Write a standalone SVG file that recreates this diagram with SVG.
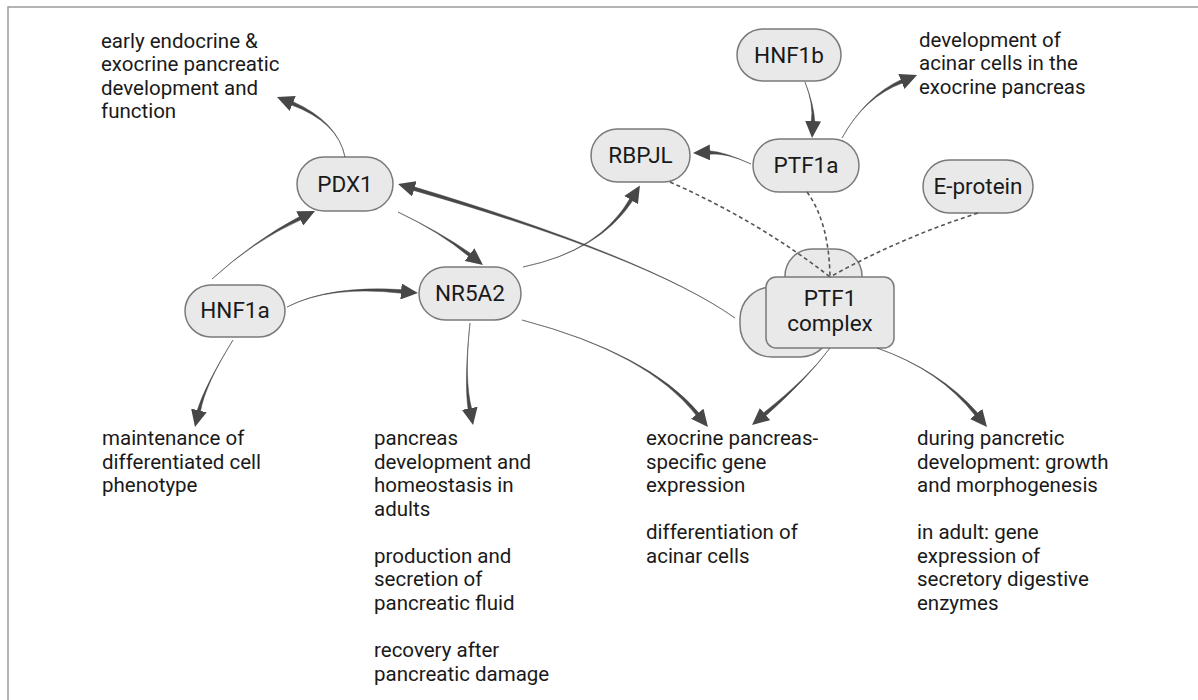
<svg xmlns="http://www.w3.org/2000/svg" width="1198" height="700" viewBox="0 0 1198 700">
  <style>
    .frame { fill: #ffffff; stroke: #9a9a9a; stroke-width: 1.5; }
    .pill { fill: #e9e9e9; stroke: #7a7a7a; stroke-width: 1.5; }
    .lbl { font-family: Roboto, "Liberation Sans", sans-serif; font-size: 22.5px; fill: #1a1a1a; text-anchor: middle; }
    .note { font-family: Roboto, "Liberation Sans", sans-serif; font-size: 20.5px; fill: #1a1a1a; }
    .taper { fill: #474747; stroke: #474747; stroke-width: 0.5; stroke-linejoin: round; }
    .head { fill: none; stroke: none; marker-end: url(#ah); }
    .dash { fill: none; stroke: #555555; stroke-width: 1.6; stroke-dasharray: 4 3; }
  </style>
  <defs>
    <marker id="ah" markerUnits="userSpaceOnUse" markerWidth="17" markerHeight="16" viewBox="0 0 17 16" refX="1" refY="8" orient="auto">
      <path d="M0,0 L17,8 L0,16 Z" fill="#474747"/>
    </marker>
  </defs>

  <rect class="frame" x="8" y="7" width="1250" height="760"/>

  <!-- nodes -->
  <g id="node-pdx1">
    <rect class="pill" x="297" y="157" width="96" height="54" rx="27"/>
    <text class="lbl" x="345" y="192">PDX1</text>
  </g>
  <g id="node-hnf1a">
    <rect class="pill" x="185" y="285" width="100" height="52" rx="26"/>
    <text class="lbl" x="235" y="318">HNF1a</text>
  </g>
  <g id="node-nr5a2">
    <rect class="pill" x="419" y="267" width="102" height="53" rx="26.5"/>
    <text class="lbl" x="470" y="301">NR5A2</text>
  </g>
  <g id="node-hnf1b">
    <rect class="pill" x="737" y="29" width="104" height="52" rx="26"/>
    <text class="lbl" x="789" y="63">HNF1b</text>
  </g>
  <g id="node-rbpjl">
    <rect class="pill" x="591" y="129" width="99" height="53" rx="26.5"/>
    <text class="lbl" x="640.5" y="163">RBPJL</text>
  </g>
  <g id="node-ptf1a">
    <rect class="pill" x="753" y="139" width="106" height="53" rx="26.5"/>
    <text class="lbl" x="806" y="173">PTF1a</text>
  </g>
  <g id="node-eprotein">
    <rect class="pill" x="923" y="160" width="110" height="53" rx="26.5"/>
    <text class="lbl" x="978" y="194">E-protein</text>
  </g>
  <g id="node-ptf1-complex">
    <rect class="pill" x="785" y="249" width="77" height="62" rx="27"/>
    <rect class="pill" x="740" y="287" width="92" height="70" rx="32"/>
    <rect class="pill" x="766" y="277" width="128" height="71" rx="10"/>
    <text class="lbl" x="830" y="306">PTF1</text>
    <text class="lbl" x="830" y="331">complex</text>
  </g>

  <!-- outcome texts -->
  <g id="text-pdx1-role">
    <text class="note" x="101" y="48">early endocrine &amp;</text>
    <text class="note" x="101" y="71.4">exocrine pancreatic</text>
    <text class="note" x="101" y="94.8">development and</text>
    <text class="note" x="101" y="118.2">function</text>
  </g>
  <g id="text-ptf1a-role">
    <text class="note" x="919" y="47">development of</text>
    <text class="note" x="919" y="70.4">acinar cells in the</text>
    <text class="note" x="919" y="93.8">exocrine pancreas</text>
  </g>
  <g id="text-hnf1a-role">
    <text class="note" x="102" y="445">maintenance of</text>
    <text class="note" x="102" y="468.5">differentiated cell</text>
    <text class="note" x="102" y="492">phenotype</text>
  </g>
  <g id="text-nr5a2-role">
    <text class="note" x="374" y="445">pancreas</text>
    <text class="note" x="374" y="468.5">development and</text>
    <text class="note" x="374" y="492">homeostasis in</text>
    <text class="note" x="374" y="515.5">adults</text>
    <text class="note" x="374" y="562.5">production and</text>
    <text class="note" x="374" y="586">secretion of</text>
    <text class="note" x="374" y="609.5">pancreatic fluid</text>
    <text class="note" x="374" y="657">recovery after</text>
    <text class="note" x="374" y="680.5">pancreatic damage</text>
  </g>
  <g id="text-exocrine-role">
    <text class="note" x="646" y="445">exocrine pancreas-</text>
    <text class="note" x="646" y="468.5">specific gene</text>
    <text class="note" x="646" y="492">expression</text>
    <text class="note" x="646" y="539">differentiation of</text>
    <text class="note" x="646" y="562.5">acinar cells</text>
  </g>
  <g id="text-ptf1-role">
    <text class="note" x="917" y="445">during pancretic</text>
    <text class="note" x="917" y="468.5">development: growth</text>
    <text class="note" x="917" y="492">and morphogenesis</text>
    <text class="note" x="917" y="539">in adult: gene</text>
    <text class="note" x="917" y="562.5">expression of</text>
    <text class="note" x="917" y="586">secretory digestive</text>
    <text class="note" x="917" y="609.5">enzymes</text>
  </g>

  <!-- connectors: tapered shafts with arrowheads, dashed complex membership -->
  <g id="connectors">
    <path class="dash" d="M670,182 Q760,222 830,277"/>
    <path class="dash" d="M807,192 Q829,222 830,277"/>
    <path class="dash" d="M978,213 Q900,238 830,277"/>

    <path class="taper" d="M345,157 Q338,122 292.5,101.4 L291.1,104.8 Q338,122 345,157Z"/>
    <path class="head" d="M338,122 L291.8,103.1"/>

    <path class="taper" d="M212,279 Q255,240 301.4,219.6 L299.8,216.4 Q255,240 212,279Z"/>
    <path class="head" d="M255,240 L300.6,218"/>

    <path class="taper" d="M398,212 Q440,232 469.2,256.7 L471.4,253.9 Q440,232 398,212Z"/>
    <path class="head" d="M440,232 L470.3,255.3"/>

    <path class="taper" d="M287,307 Q330,285 401.8,293.3 L402.2,289.7 Q330,285 287,307Z"/>
    <path class="head" d="M330,285 L402,291.5"/>

    <path class="taper" d="M233,340 Q205,385 197,411 L200.4,411.8 Q205,385 233,340Z"/>
    <path class="head" d="M205,385 L198.7,411.4"/>

    <path class="taper" d="M470,323 Q464,380 468.1,409.7 L471.7,408.9 Q464,380 470,323Z"/>
    <path class="head" d="M464,380 L469.9,409.3"/>

    <path class="taper" d="M523,267 Q600,251 633.1,200.1 L630.1,198.3 Q600,251 523,267Z"/>
    <path class="head" d="M600,251 L631.6,199.2"/>

    <path class="taper" d="M735,318 Q650,258 413.9,186.8 L412.9,190.2 Q650,258 735,318Z"/>
    <path class="head" d="M650,258 L413.4,188.5"/>

    <path class="taper" d="M522,320 Q648.5,353.3 696.5,415.6 L699.3,413.4 Q648.5,353.3 522,320Z"/>
    <path class="head" d="M648.5,353.3 L697.9,414.5"/>

    <path class="taper" d="M830,348 Q808,378 763.1,413.3 L765.5,416.1 Q808,378 830,348Z"/>
    <path class="head" d="M808,378 L764.3,414.7"/>

    <path class="taper" d="M877,348 Q940,370 975.4,415.8 L978.2,413.6 Q940,370 877,348Z"/>
    <path class="head" d="M940,370 L976.8,414.7"/>

    <path class="taper" d="M805,82 Q814,105 811.2,121.9 L814.8,122.1 Q814,105 805,82Z"/>
    <path class="head" d="M814,105 L813,122"/>

    <path class="taper" d="M751,164 Q725,152 709,150.7 L709,154.3 Q725,152 751,164Z"/>
    <path class="head" d="M725,152 L709,152.5"/>

    <path class="taper" d="M842,138 Q864.8,96.6 903,82.8 L901.6,79.4 Q864.8,96.6 842,138Z"/>
    <path class="head" d="M864.8,96.6 L902.3,81.1"/>
  </g>
</svg>
